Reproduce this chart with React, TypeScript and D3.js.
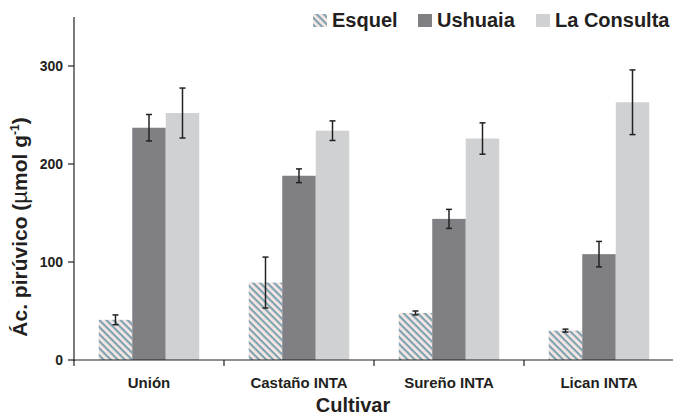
import React from "react";
import * as d3 from "d3";

const categories = ["Unión", "Castaño INTA", "Sureño INTA", "Lican INTA"];
const seriesNames = ["Esquel", "Ushuaia", "La Consulta"];
const esquel = [41, 79, 48, 30];
const esquelErr = [5, 26, 2, 1.5];
const ushuaia = [237, 188, 144, 108];
const ushuaiaErr = [13.5, 7, 9.7, 13];
const laConsulta = [252, 234, 226, 263];
const laConsultaErr = [25.5, 10, 16, 33];
const yTicks = [0, 100, 200, 300];

const W = 673;
const H = 417;
const FONT = "'Liberation Sans', Arial, Helvetica, sans-serif";

export default function App() {
  const x = d3.scaleBand<string>().domain(categories).range([74, 674]).paddingInner(0).paddingOuter(0);
  const y = d3.scaleLinear().domain([0, 350]).range([360, 17]);
  const groupW = 100.5;
  const inner = d3.scaleBand<string>().domain(seriesNames).range([0, groupW]).padding(0);
  const values = [esquel, ushuaia, laConsulta];
  const errs = [esquelErr, ushuaiaErr, laConsultaErr];
  const fills = ["url(#hatch)", "#7f7f84", "#d0d1d3"];
  const bw = inner.bandwidth();

  const legendX = [313, 418, 536];

  return (
    <svg width={W} height={H} style={{ display: "block", position: "absolute", left: 0, top: 0 }}>
      <defs>
        <pattern id="hatch" patternUnits="userSpaceOnUse" width="5" height="5" patternTransform="rotate(45)">
          <rect width="5" height="5" fill="#f7e8e4" />
          <rect width="5" height="2.2" fill="#80a3b3" />
        </pattern>
      </defs>
      <rect width={W} height={H} fill="#fff" />
      {categories.map((c, ci) =>
        values.map((vals, si) => {
          const x0 = (x(c) as number) + (x.bandwidth() - groupW) / 2 + (inner(seriesNames[si]) as number);
          const v = vals[ci];
          const e = errs[si][ci];
          const cx = x0 + bw / 2;
          return (
            <g key={c + si}>
              <rect x={x0} y={y(v)} width={bw} height={y(0) - y(v)} fill={fills[si]} />
              <line x1={cx} x2={cx} y1={y(v + e)} y2={y(v - e)} stroke="#222" strokeWidth={1.5} />
              <line x1={cx - 3} x2={cx + 3} y1={y(v + e)} y2={y(v + e)} stroke="#222" strokeWidth={1.5} />
              <line x1={cx - 3} x2={cx + 3} y1={y(v - e)} y2={y(v - e)} stroke="#222" strokeWidth={1.5} />
            </g>
          );
        })
      )}
      {/* y axis */}
      <line x1={74} x2={74} y1={17} y2={361} stroke="#222" strokeWidth={1.2} />
      {yTicks.map((t) => (
        <g key={t}>
          <line x1={68} x2={74} y1={y(t)} y2={y(t)} stroke="#222" strokeWidth={1.2} />
          <text x={63} y={y(t) + 5} textAnchor="end" fontFamily={FONT} fontWeight="bold" fontSize={14} fill="#231f20">
            {t}
          </text>
        </g>
      ))}
      {/* x axis */}
      <line x1={74} x2={673} y1={360} y2={360} stroke="#222" strokeWidth={1.2} />
      {[...categories.map((c) => x(c) as number)].map((px, i) => (
        <line key={i} x1={px} x2={px} y1={360} y2={366} stroke="#222" strokeWidth={1.2} />
      ))}
      {categories.map((c) => (
        <text key={c} x={(x(c) as number) + x.bandwidth() / 2} y={388} textAnchor="middle" fontFamily={FONT} fontWeight="bold" fontSize={15} fill="#231f20">
          {c}
        </text>
      ))}
      <text x={353} y={412} textAnchor="middle" fontFamily={FONT} fontWeight="bold" fontSize={20} fill="#231f20">
        Cultivar
      </text>
      <text transform="translate(27,227) rotate(-90)" textAnchor="middle" fontFamily={FONT} fontWeight="bold" fontSize={21} fill="#231f20">
        Ác. pirúvico (<tspan fontWeight="normal" fontSize={22}>µ</tspan>mol g<tspan dy={-8} fontSize={12}>-1</tspan><tspan dy={8}>)</tspan>
      </text>
      {/* legend */}
      {seriesNames.map((s, i) => (
        <g key={s}>
          <rect x={legendX[i]} y={14} width={14} height={13} fill={fills[i]} />
          <text x={legendX[i] + 19} y={27} fontFamily={FONT} fontWeight="bold" fontSize={20} fill="#231f20">
            {s}
          </text>
        </g>
      ))}
    </svg>
  );
}
